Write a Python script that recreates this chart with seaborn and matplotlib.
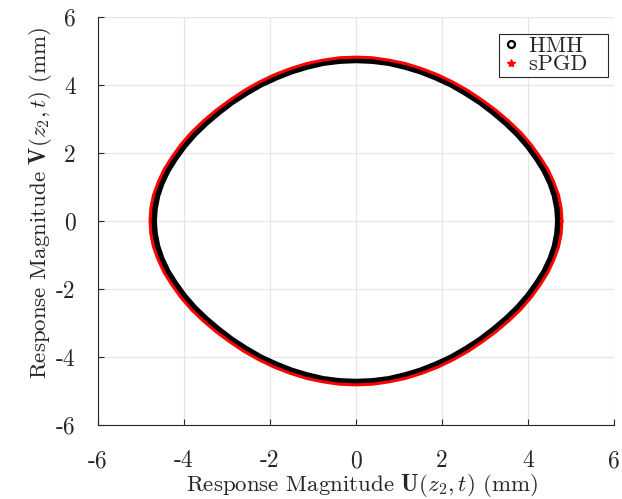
import matplotlib
matplotlib.use("Agg")
import matplotlib.pyplot as plt
import seaborn as sns
import pandas as pd
from matplotlib.lines import Line2D

# HMH response, closed loop
hmh_u = [4.70, 4.68, 4.62, 4.52, 4.38, 4.20, 4.00, 3.76, 3.49, 3.20, 2.89, 2.56, 2.22, 1.86, 1.50, 1.13, 0.76, 0.38, 0.00,
         -0.38, -0.76, -1.13, -1.50, -1.86, -2.22, -2.56, -2.89, -3.20, -3.49, -3.76, -4.00, -4.20, -4.38, -4.52, -4.62, -4.68, -4.70,
         -4.68, -4.62, -4.52, -4.38, -4.20, -4.00, -3.76, -3.49, -3.20, -2.89, -2.56, -2.22, -1.86, -1.50, -1.13, -0.76, -0.38, 0.00,
         0.38, 0.76, 1.13, 1.50, 1.86, 2.22, 2.56, 2.89, 3.20, 3.49, 3.76, 4.00, 4.20, 4.38, 4.52, 4.62, 4.68, 4.70]
hmh_v = [0.00, 0.37, 0.75, 1.12, 1.49, 1.85, 2.20, 2.55, 2.88, 3.19, 3.49, 3.76, 4.01, 4.22, 4.40, 4.54, 4.65, 4.71, 4.73,
         4.71, 4.65, 4.54, 4.40, 4.22, 4.01, 3.76, 3.49, 3.19, 2.88, 2.55, 2.20, 1.85, 1.49, 1.12, 0.75, 0.37, 0.00,
         -0.37, -0.75, -1.12, -1.49, -1.85, -2.20, -2.55, -2.88, -3.19, -3.49, -3.76, -4.01, -4.22, -4.40, -4.54, -4.65, -4.71, -4.73,
         -4.71, -4.65, -4.54, -4.40, -4.22, -4.01, -3.76, -3.49, -3.19, -2.88, -2.55, -2.20, -1.85, -1.49, -1.12, -0.75, -0.37, 0.00]

# sPGD response, closed loop
spgd_u = [4.79, 4.77, 4.71, 4.60, 4.46, 4.28, 4.07, 3.83, 3.56, 3.26, 2.94, 2.61, 2.26, 1.90, 1.53, 1.15, 0.77, 0.39, 0.00,
          -0.39, -0.77, -1.15, -1.53, -1.90, -2.26, -2.61, -2.94, -3.26, -3.56, -3.83, -4.07, -4.28, -4.46, -4.60, -4.71, -4.77, -4.79,
          -4.77, -4.71, -4.60, -4.46, -4.28, -4.07, -3.83, -3.56, -3.26, -2.94, -2.61, -2.26, -1.90, -1.53, -1.15, -0.77, -0.39, 0.00,
          0.39, 0.77, 1.15, 1.53, 1.90, 2.26, 2.61, 2.94, 3.26, 3.56, 3.83, 4.07, 4.28, 4.46, 4.60, 4.71, 4.77, 4.79]
spgd_v = [0.00, 0.38, 0.76, 1.14, 1.52, 1.88, 2.25, 2.60, 2.93, 3.25, 3.55, 3.83, 4.08, 4.30, 4.48, 4.63, 4.73, 4.80, 4.82,
          4.80, 4.73, 4.63, 4.48, 4.30, 4.08, 3.83, 3.55, 3.25, 2.93, 2.60, 2.25, 1.88, 1.52, 1.14, 0.76, 0.38, 0.00,
          -0.38, -0.76, -1.14, -1.52, -1.88, -2.25, -2.60, -2.93, -3.25, -3.55, -3.83, -4.08, -4.30, -4.48, -4.63, -4.73, -4.80, -4.82,
          -4.80, -4.73, -4.63, -4.48, -4.30, -4.08, -3.83, -3.55, -3.25, -2.93, -2.60, -2.25, -1.88, -1.52, -1.14, -0.76, -0.38, 0.00]

tick_vals = [-6, -4, -2, 0, 2, 4, 6]
tick_labels = ["-6", "-4", "-2", "0", "2", "4", "6"]
series_names = ["HMH", "sPGD"]

sns.set_style("white")
plt.rcParams["font.family"] = ["cmr10", "DejaVu Serif"]
plt.rcParams["mathtext.fontset"] = "cm"
plt.rcParams["axes.unicode_minus"] = False

FS = 17
LFS = 16.5

fig = plt.figure(figsize=(6.22, 4.99), dpi=100)
ax = fig.add_axes([98/622, 1-425/499, 516/622, 408/499])

df_h = pd.DataFrame({"u": hmh_u, "v": hmh_v})
df_s = pd.DataFrame({"u": spgd_u, "v": spgd_v})
sns.lineplot(data=df_h, x="u", y="v", sort=False, estimator=None, color="black",
             lw=4.4, ax=ax, legend=False, solid_joinstyle="round", solid_capstyle="round")
sns.lineplot(data=df_s, x="u", y="v", sort=False, estimator=None, color="#ff0000",
             lw=2.2, ax=ax, legend=False, solid_joinstyle="round", solid_capstyle="round")

ax.set_xlim(-6, 6)
ax.set_ylim(-6, 6)
ax.set_xticks(tick_vals)
ax.set_xticklabels(tick_labels)
ax.set_yticks(tick_vals)
ax.set_yticklabels(tick_labels)
ax.grid(True, color="#e6e6e6", lw=0.9)
ax.set_axisbelow(True)
for s in ["top", "right"]:
    ax.spines[s].set_visible(False)
for s in ["left", "bottom"]:
    ax.spines[s].set_color("#262626")
    ax.spines[s].set_linewidth(0.8)
ax.tick_params(axis="x", direction="in", length=4, width=0.8, color="#262626",
               labelsize=FS, pad=18, bottom=True)
ax.tick_params(axis="y", direction="in", length=4, width=0.8, color="#262626",
               labelsize=FS, pad=16, left=True)

ax.set_xlabel(r"Response Magnitude $\mathbf{U}(z_2,t)$ (mm)", fontsize=LFS)
ax.set_ylabel(r"Response Magnitude $\mathbf{V}(z_2,t)$ (mm)", fontsize=LFS)
ax.xaxis.set_label_coords(0.513, -0.115)
ax.yaxis.set_label_coords(-0.085, 0.545)

handles = [Line2D([], [], ls="none", marker="o", mfc="none", mec="black", mew=1.6, ms=5),
           Line2D([], [], ls="none", marker="*", color="red", ms=6)]
leg = ax.legend(handles, [series_names[0] + "   ", series_names[1] + "  "], loc="upper right",
                bbox_to_anchor=(0.988, 0.958), fontsize=16, frameon=True,
                fancybox=False, edgecolor="#262626", framealpha=1,
                handlelength=0.8, handletextpad=0.45, borderpad=0.1,
                labelspacing=-0.05, borderaxespad=0)
leg.get_frame().set_linewidth(0.8)

fig.savefig("out.png", dpi=100)
